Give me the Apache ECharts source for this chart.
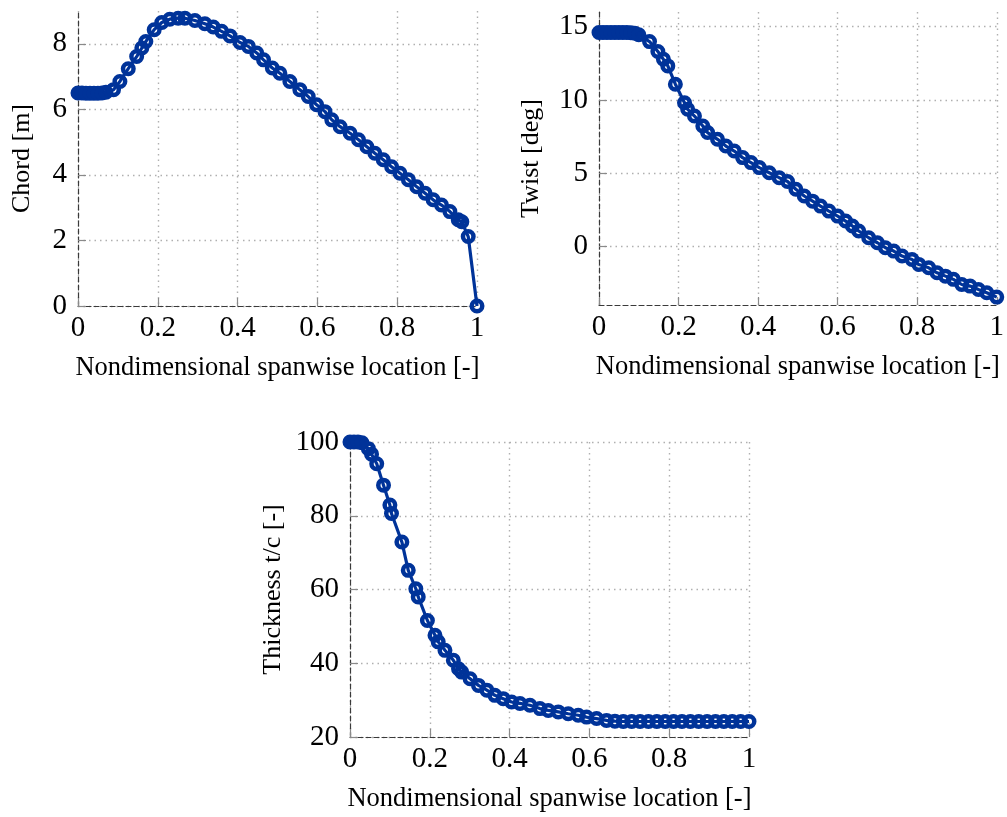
<!DOCTYPE html>
<html>
<head>
<meta charset="utf-8">
<script src="https://cdn.jsdelivr.net/npm/echarts@6/dist/echarts.min.js"></script>
<style>
  html, body { margin: 0; padding: 0; background: #fff; }
  #chart { width: 1007px; height: 817px; }
</style>
</head>
<body>
<div id="chart"></div>
<script>
// ---- data ----
const xTickLabels = [0, 0.2, 0.4, 0.6, 0.8, 1];
const chordTickLabels = [0, 2, 4, 6, 8];
const twistTickLabels = [0, 5, 10, 15];
const thickTickLabels = [20, 40, 60, 80, 100];

const chordX = [0, 0.01, 0.02, 0.03, 0.04, 0.05, 0.06, 0.07, 0.089, 0.105, 0.126, 0.147, 0.16, 0.17, 0.191, 0.21, 0.23, 0.251, 0.268, 0.293, 0.318, 0.339, 0.36, 0.381, 0.406, 0.427, 0.448, 0.465, 0.487, 0.506, 0.531, 0.556, 0.577, 0.598, 0.619, 0.636, 0.657, 0.682, 0.703, 0.724, 0.744, 0.765, 0.786, 0.807, 0.828, 0.849, 0.87, 0.89, 0.911, 0.932, 0.953, 0.962, 0.978, 1.0];
const chordY = [6.5, 6.5, 6.49, 6.49, 6.49, 6.49, 6.5, 6.52, 6.6, 6.85, 7.24, 7.61, 7.87, 8.07, 8.43, 8.65, 8.75, 8.78, 8.78, 8.71, 8.61, 8.51, 8.38, 8.24, 8.04, 7.92, 7.72, 7.51, 7.26, 7.1, 6.85, 6.6, 6.39, 6.14, 5.93, 5.68, 5.47, 5.27, 5.07, 4.86, 4.66, 4.46, 4.25, 4.05, 3.85, 3.64, 3.44, 3.24, 3.08, 2.88, 2.63, 2.57, 2.12, 0.0];

const twistX = [0, 0.01, 0.02, 0.03, 0.04, 0.05, 0.06, 0.07, 0.08, 0.09, 0.1, 0.127, 0.148, 0.162, 0.173, 0.192, 0.215, 0.223, 0.24, 0.261, 0.273, 0.298, 0.319, 0.34, 0.361, 0.382, 0.403, 0.428, 0.453, 0.474, 0.495, 0.516, 0.537, 0.557, 0.578, 0.6, 0.62, 0.637, 0.653, 0.678, 0.7, 0.72, 0.741, 0.762, 0.787, 0.804, 0.829, 0.85, 0.871, 0.891, 0.912, 0.933, 0.954, 0.975, 1.0];
const twistY = [14.6, 14.6, 14.6, 14.6, 14.6, 14.6, 14.6, 14.6, 14.58, 14.55, 14.45, 13.98, 13.3, 12.77, 12.32, 11.07, 9.81, 9.36, 8.9, 8.22, 7.77, 7.31, 6.85, 6.51, 6.06, 5.72, 5.38, 5.03, 4.69, 4.43, 3.9, 3.44, 3.09, 2.75, 2.41, 2.07, 1.73, 1.39, 1.05, 0.59, 0.25, -0.09, -0.32, -0.66, -0.89, -1.23, -1.46, -1.8, -2.03, -2.25, -2.6, -2.71, -2.94, -3.16, -3.46];

const thickX = [0, 0.01, 0.02, 0.03, 0.046, 0.054, 0.067, 0.084, 0.1, 0.104, 0.13, 0.146, 0.165, 0.171, 0.194, 0.213, 0.221, 0.238, 0.259, 0.272, 0.28, 0.301, 0.322, 0.343, 0.363, 0.384, 0.405, 0.426, 0.451, 0.476, 0.497, 0.522, 0.547, 0.572, 0.593, 0.618, 0.643, 0.664, 0.685, 0.706, 0.727, 0.748, 0.769, 0.79, 0.811, 0.832, 0.853, 0.874, 0.895, 0.916, 0.937, 0.958, 0.979, 1.0];
const thickY = [100, 100, 100, 99.8, 98.2, 96.7, 94.1, 88.3, 82.9, 80.6, 72.9, 65.2, 60.2, 58.0, 51.6, 47.6, 45.8, 43.5, 40.8, 38.5, 37.6, 35.8, 34.0, 32.7, 31.3, 30.4, 29.5, 29.1, 28.6, 27.7, 27.2, 26.8, 26.3, 25.9, 25.4, 25.0, 24.5, 24.3, 24.2, 24.2, 24.2, 24.2, 24.2, 24.2, 24.2, 24.2, 24.2, 24.2, 24.2, 24.2, 24.2, 24.2, 24.2, 24.2];

const xTitle = 'Nondimensional spanwise location [-]';
const yTitles = ['Chord [m]', 'Twist [deg]', 'Thickness t/c [-]'];

// ---- styling ----
const FONT = '"Liberation Serif", "DejaVu Serif", serif';
const BLUE = '#003399';
const axisLineStyle = { color: '#3a3a3a', width: 1.2, type: [5, 3] };
const gridStyle = { color: '#b0b0b0', width: 1.4, type: [1.5, 4] };
const tickStyle = { color: '#8a8a8a', width: 1.2 };

function pairs(xs, ys) { return xs.map((x, i) => [x, ys[i]]); }

function xAxisDef(gi) {
  return {
    type: 'value', gridIndex: gi, min: 0, max: 1, interval: 0.1,
    name: xTitle, nameLocation: 'middle', nameGap: 49,
    nameTextStyle: { fontFamily: FONT, fontSize: 26.5, color: '#000' },
    axisLine: { show: true, onZero: false, lineStyle: axisLineStyle },
    axisTick: { show: true, inside: true, length: 8, lineStyle: tickStyle, customValues: xTickLabels },
    axisLabel: { customValues: xTickLabels, margin: 8, fontFamily: FONT, fontSize: 29, color: '#000',
      formatter: v => String(+v.toFixed(1)) },
    splitLine: { show: true, lineStyle: gridStyle }
  };
}
function yAxisDef(gi, min, max, interval, labels, name, gap) {
  return {
    type: 'value', gridIndex: gi, min: min, max: max, interval: interval,
    name: name, nameLocation: 'middle', nameGap: gap, nameRotate: 90,
    nameTextStyle: { fontFamily: FONT, fontSize: 26, color: '#000' },
    axisLine: { show: true, onZero: false, lineStyle: axisLineStyle },
    axisTick: { show: true, inside: true, length: 8, lineStyle: tickStyle, customValues: labels },
    axisLabel: { customValues: labels, margin: 11, fontFamily: FONT, fontSize: 29, color: '#000' },
    splitLine: { show: true, lineStyle: gridStyle }
  };
}
function seriesDef(gi, data) {
  return {
    type: 'line', xAxisIndex: gi, yAxisIndex: gi, data: data,
    symbol: 'circle', symbolSize: 10.5, showAllSymbol: true, animation: false,
    lineStyle: { color: BLUE, width: 3.2 },
    itemStyle: { color: 'rgba(255,255,255,0)', borderColor: BLUE, borderWidth: 4.5 },
    emphasis: { disabled: true }
  };
}

const chart = echarts.init(document.getElementById('chart'), null, { renderer: 'canvas' });
chart.setOption({
  backgroundColor: '#fff',
  animation: false,
  grid: [
    { left: 78, right: 530, top: 11, bottom: 511 },
    { left: 599, right: 9, top: 12, bottom: 512 },
    { left: 350, right: 258, top: 442, bottom: 80 }
  ],
  xAxis: [xAxisDef(0), xAxisDef(1), xAxisDef(2)],
  yAxis: [
    yAxisDef(0, 0, 9, 1, chordTickLabels, yTitles[0], 43),
    yAxisDef(1, -4, 16, 2, twistTickLabels, yTitles[1], 55),
    yAxisDef(2, 20, 100, 10, thickTickLabels, yTitles[2], 64)
  ],
  series: [
    seriesDef(0, pairs(chordX, chordY)),
    seriesDef(1, pairs(twistX, twistY)),
    seriesDef(2, pairs(thickX, thickY))
  ]
});
</script>
</body>
</html>
